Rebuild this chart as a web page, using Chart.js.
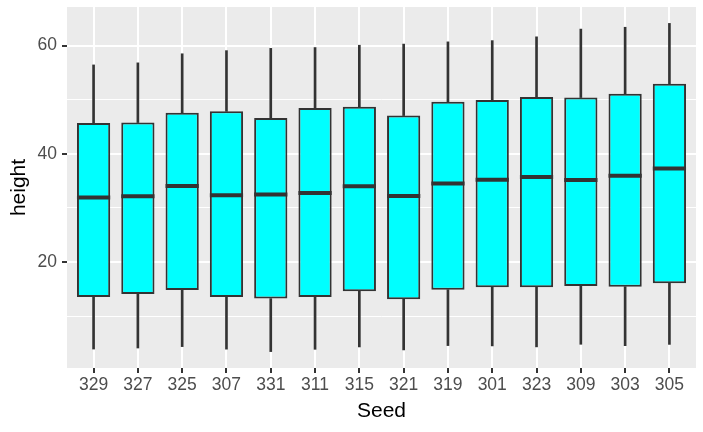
<!DOCTYPE html>
<html>
<head>
<meta charset="utf-8">
<script src="https://cdn.jsdelivr.net/npm/chart.js@4"></script>
<style>
html,body{margin:0;padding:0;background:#fff;}
canvas{display:block;}
</style>
</head>
<body>
<canvas id="c" width="703" height="432"></canvas>
<script>
// Seed categories (ordered as in the reference)
const seeds = ['329','327','325','307','331','311','315','321','319','301','323','309','303','305'];
// Box-plot statistics of height per seed
const mins    = [3.93, 4.12, 4.38, 3.91, 3.46, 3.88, 4.32, 3.77, 4.57, 4.51, 4.33, 4.81, 4.55, 4.79];
const q1s     = [13.53, 14.08, 14.84, 13.53, 13.25, 13.55, 14.61, 13.14, 14.90, 15.35, 15.34, 15.57, 15.46, 16.08];
const medians = [31.94, 32.18, 34.07, 32.37, 32.50, 32.77, 34.01, 32.22, 34.52, 35.23, 35.71, 35.16, 35.95, 37.31];
const q3s     = [45.68, 45.78, 47.60, 47.85, 46.63, 48.48, 48.71, 47.07, 49.61, 49.96, 50.49, 50.40, 51.12, 52.97];
const maxs    = [56.43, 56.81, 58.49, 59.07, 59.49, 59.64, 60.07, 60.28, 60.69, 60.92, 61.62, 63.05, 63.39, 64.10];
// Axis ticks
const yMajorTicks = [20, 40, 60];
const yMinorTicks = [10, 30, 50];

const FONT = "'Liberation Sans', Arial, sans-serif";
const DARK = '#333333';

const panelBg = {
  id: 'panelBg',
  beforeDraw(chart) {
    const {ctx, chartArea: a} = chart;
    ctx.save();
    ctx.fillStyle = '#EBEBEB';
    ctx.fillRect(a.left, a.top, a.right - a.left, a.bottom - a.top);
    ctx.restore();
  }
};

const medianLines = {
  id: 'medianLines',
  afterDatasetsDraw(chart) {
    const {ctx} = chart;
    const meta = chart.getDatasetMeta(2);
    const ys = chart.scales.y;
    ctx.save();
    ctx.strokeStyle = DARK;
    ctx.lineWidth = 4;
    ctx.lineCap = 'butt';
    meta.data.forEach((bar, i) => {
      const y = ys.getPixelForValue(medians[i]);
      ctx.beginPath();
      ctx.moveTo(bar.x - bar.width / 2, y);
      ctx.lineTo(bar.x + bar.width / 2, y);
      ctx.stroke();
    });
    ctx.restore();
  }
};

const idx = seeds.map((s, i) => i);

new Chart(document.getElementById('c'), {
  type: 'bar',
  data: {
    datasets: [
      {
        label: 'lower',
        data: idx.map(i => ({x: i, y: [mins[i], q1s[i]]})),
        backgroundColor: DARK,
        borderWidth: 0,
        barThickness: 2,
        grouped: false,
        order: 3
      },
      {
        label: 'upper',
        data: idx.map(i => ({x: i, y: [q3s[i], maxs[i]]})),
        backgroundColor: DARK,
        borderWidth: 0,
        barThickness: 2,
        grouped: false,
        order: 2
      },
      {
        label: 'box',
        data: idx.map(i => ({x: i, y: [q1s[i], q3s[i]]})),
        backgroundColor: '#00FFFF',
        borderColor: DARK,
        borderWidth: 2,
        borderSkipped: false,
        barPercentage: 0.75,
        categoryPercentage: 1,
        grouped: false,
        order: 1
      }
    ]
  },
  options: {
    responsive: false,
    animation: false,
    layout: {padding: {left: 0, top: 7, right: 7, bottom: 0}},
    plugins: {legend: {display: false}, tooltip: {enabled: false}},
    scales: {
      x: {
        type: 'linear',
        offset: false,
        min: -0.6,
        max: seeds.length - 1 + 0.6,
        afterBuildTicks(scale) { scale.ticks = idx.map(i => ({value: i})); },
        afterFit(scale) { scale.height = 64; scale.paddingLeft = 0; scale.paddingRight = 0; },
        border: {display: false},
        grid: {
          offset: false,
          color: '#FFFFFF',
          lineWidth: 2,
          drawTicks: true,
          tickLength: 5,
          tickColor: DARK,
          tickWidth: 2
        },
        ticks: {
          autoSkip: false,
          maxRotation: 0,
          padding: 2,
          color: '#4D4D4D',
          font: {family: FONT, size: 17.5},
          callback: (v) => seeds[v]
        },
        title: {
          display: true,
          text: 'Seed',
          color: '#000000',
          font: {family: FONT, size: 21},
          padding: {top: 0, bottom: 8}
        }
      },
      y: {
        type: 'linear',
        min: 0.428,
        max: 67.132,
        afterBuildTicks(scale) {
          scale.ticks = [...yMinorTicks, ...yMajorTicks].sort((a, b) => a - b).map(v => ({value: v}));
        },
        afterFit(scale) { scale.width = 67; scale.paddingTop = 0; scale.paddingBottom = 0; },
        border: {display: false},
        grid: {
          color: '#FFFFFF',
          lineWidth: (c) => yMajorTicks.includes(c.tick && c.tick.value) ? 2 : 1,
          tickLength: 5,
          tickColor: (c) => yMajorTicks.includes(c.tick && c.tick.value) ? DARK : 'rgba(0,0,0,0)',
          tickWidth: 2
        },
        ticks: {
          padding: 5,
          color: '#4D4D4D',
          font: {family: FONT, size: 17.5},
          callback: (v) => yMajorTicks.includes(v) ? String(v) : ''
        },
        title: {
          display: true,
          text: 'height',
          color: '#000000',
          font: {family: FONT, size: 21},
          padding: {top: 7, bottom: 0}
        }
      }
    }
  },
  plugins: [panelBg, medianLines]
});
</script>
</body>
</html>
